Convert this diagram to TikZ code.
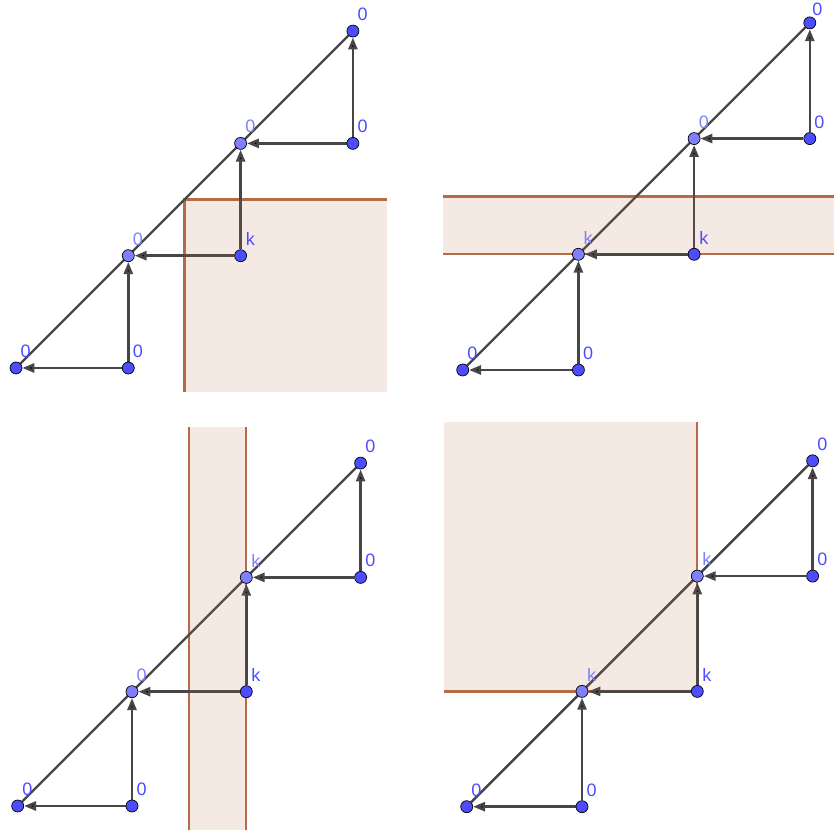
\documentclass[tikz,border=0pt]{standalone}
\usepackage{fontspec}
\setsansfont{Liberation Sans}
\usetikzlibrary{arrows.meta}

\definecolor{ptdark}{RGB}{77,77,255}
\definecolor{ptlight}{RGB}{128,128,255}
\definecolor{segcol}{RGB}{70,70,70}
\definecolor{regcol}{RGB}{183,106,70}

\pgfdeclarelayer{rims}
\pgfdeclarelayer{segs}
\pgfdeclarelayer{tint}
\pgfsetlayers{rims,segs,tint,main}

\tikzset{
  dot/.style={circle,draw=black,line width=0.7pt,fill=ptdark,minimum size=12pt,inner sep=0pt},
  ondot/.style={dot,fill=ptlight},
  lbl/.style={font=\sffamily\fontsize{18}{18}\selectfont,text=ptdark,anchor=center,label distance=13pt,inner sep=0pt},
  onlbl/.style={lbl,text=ptlight},
  vec/.style={-{Triangle[length=12pt,width=9pt]},line width=2.6pt,draw=segcol},
  diag/.style={line width=2.4pt,draw=segcol},
  shade/.style={fill=regcol,fill opacity=0.15},
  rim/.style={draw=regcol,line width=2.3pt},
}

\begin{document}
\begin{tikzpicture}
  \useasboundingbox (0,0) rectangle (834pt,834pt);

  % Panel 1: quadrant below right
  \begin{scope}[shift={(16pt,466pt)},x=112.3pt,y=112.3pt]
    \node[dot,label={[lbl]60:0}] (a1) at (0,0) {};
    \node[dot,label={[lbl]60:0}] (b1) at (1,0) {};
    \node[ondot,label={[onlbl]60:0}] (c1) at (1,1) {};
    \node[dot,label={[lbl]60:k}] (d1) at (2,1) {};
    \node[ondot,label={[onlbl]60:0}] (e1) at (2,2) {};
    \node[dot,label={[lbl]60:0}] (f1) at (3,2) {};
    \node[dot,label={[lbl]60:0}] (g1) at (3,3) {};
    \begin{pgfonlayer}{segs}
      \draw[diag] (a1) -- (g1);
      \draw[vec] (b1) edge (a1) edge (c1) (d1) edge (c1) edge (e1) (f1) edge (e1) edge (g1);
    \end{pgfonlayer}
    \begin{pgfonlayer}{rims}
      \draw[rim] (1.5,-0.21) -- (1.5,1.5) -- (3.3,1.5);
    \end{pgfonlayer}
    \begin{pgfonlayer}{tint}
      \fill[shade] (1.5,-0.21) rectangle (3.3,1.5);
    \end{pgfonlayer}
  \end{scope}

  % Panel 2: horizontal band
  \begin{scope}[shift={(462.7pt,464pt)},x=115.7pt,y=115.7pt]
    \node[dot,label={[lbl]60:0}] (a2) at (0,0) {};
    \node[dot,label={[lbl]60:0}] (b2) at (1,0) {};
    \node[ondot,label={[onlbl]60:k}] (c2) at (1,1) {};
    \node[dot,label={[lbl]60:k}] (d2) at (2,1) {};
    \node[ondot,label={[onlbl]60:0}] (e2) at (2,2) {};
    \node[dot,label={[lbl]60:0}] (f2) at (3,2) {};
    \node[dot,label={[lbl,label distance=9pt]60:0}] (g2) at (3,3) {};
    \begin{pgfonlayer}{segs}
      \draw[diag] (a2) -- (g2);
      \draw[vec] (b2) edge (a2) edge (c2) (d2) edge (c2) edge (e2) (f2) edge (e2) edge (g2);
    \end{pgfonlayer}
    \begin{pgfonlayer}{rims}
      \draw[rim] (-0.168,1) -- (3.21,1) (-0.168,1.5) -- (3.21,1.5);
    \end{pgfonlayer}
    \begin{pgfonlayer}{tint}
      \fill[shade] (-0.168,1) rectangle (3.21,1.5);
    \end{pgfonlayer}
  \end{scope}

  % Panel 3: vertical band
  \begin{scope}[shift={(17.7pt,28pt)},x=114.3pt,y=114.3pt]
    \node[dot,label={[lbl]60:0}] (a3) at (0,0) {};
    \node[dot,label={[lbl]60:0}] (b3) at (1,0) {};
    \node[ondot,label={[onlbl]60:0}] (c3) at (1,1) {};
    \node[dot,label={[lbl]60:k}] (d3) at (2,1) {};
    \node[ondot,label={[onlbl]60:k}] (e3) at (2,2) {};
    \node[dot,label={[lbl]60:0}] (f3) at (3,2) {};
    \node[dot,label={[lbl]60:0}] (g3) at (3,3) {};
    \begin{pgfonlayer}{segs}
      \draw[diag] (a3) -- (g3);
      \draw[vec] (b3) edge (a3) edge (c3) (d3) edge (c3) edge (e3) (f3) edge (e3) edge (g3);
    \end{pgfonlayer}
    \begin{pgfonlayer}{rims}
      \draw[rim] (1.5,-0.21) -- (1.5,3.32) (2,-0.21) -- (2,3.32);
    \end{pgfonlayer}
    \begin{pgfonlayer}{tint}
      \fill[shade] (1.5,-0.21) rectangle (2,3.32);
    \end{pgfonlayer}
  \end{scope}

  % Panel 4: quadrant above left
  \begin{scope}[shift={(466.7pt,27.3pt)},x=115.3pt,y=115.3pt]
    \node[dot,label={[lbl]60:0}] (a4) at (0,0) {};
    \node[dot,label={[lbl]60:0}] (b4) at (1,0) {};
    \node[ondot,label={[onlbl]60:k}] (c4) at (1,1) {};
    \node[dot,label={[lbl]60:k}] (d4) at (2,1) {};
    \node[ondot,label={[onlbl]60:k}] (e4) at (2,2) {};
    \node[dot,label={[lbl]60:0}] (f4) at (3,2) {};
    \node[dot,label={[lbl]60:0}] (g4) at (3,3) {};
    \begin{pgfonlayer}{segs}
      \draw[diag] (a4) -- (g4);
      \draw[vec] (b4) edge (a4) edge (c4) (d4) edge (c4) edge (e4) (f4) edge (e4) edge (g4);
    \end{pgfonlayer}
    \begin{pgfonlayer}{rims}
      \draw[rim] (-0.2,1) -- (2,1) -- (2,3.34);
    \end{pgfonlayer}
    \begin{pgfonlayer}{tint}
      \fill[shade] (-0.2,1) rectangle (2,3.34);
    \end{pgfonlayer}
  \end{scope}
\end{tikzpicture}
\end{document}
